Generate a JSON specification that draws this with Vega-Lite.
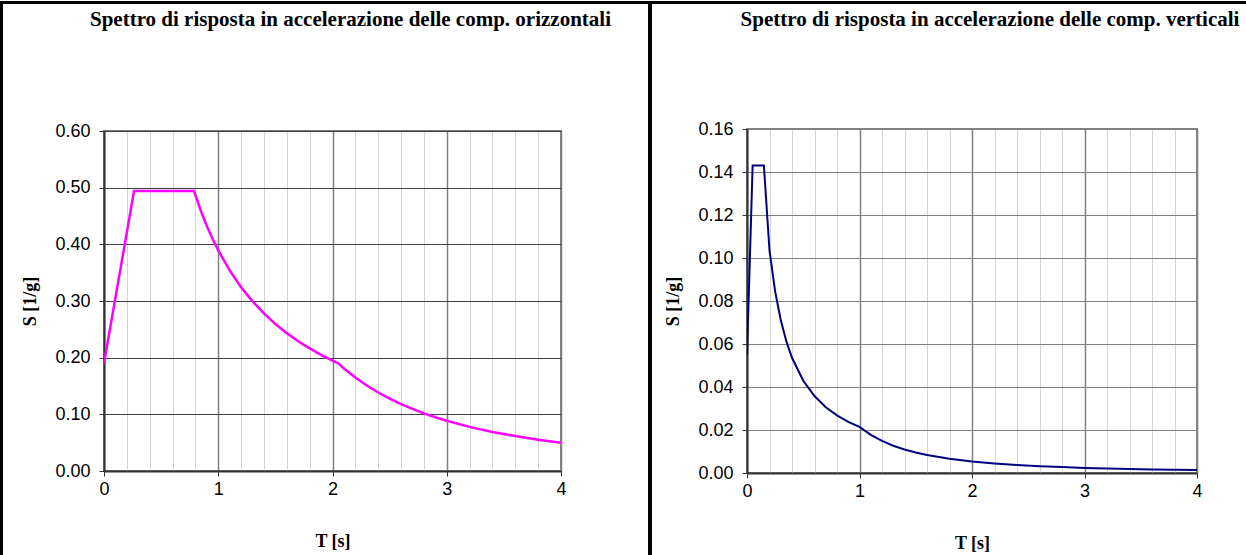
{
  "$schema": "https://vega.github.io/schema/vega-lite/v6.json",
  "background": "white",
  "padding": {"left": 0, "top": 1, "right": 0, "bottom": 0},
  "spacing": 0,
  "datasets": {
    "h": [
      {"T": 0, "S": 0.19},
      {"T": 0.263, "S": 0.494},
      {"T": 0.788, "S": 0.494},
      {"T": 0.85, "S": 0.458},
      {"T": 0.9, "S": 0.4325},
      {"T": 0.95, "S": 0.4098},
      {"T": 1.0, "S": 0.3893},
      {"T": 1.1, "S": 0.3539},
      {"T": 1.2, "S": 0.3244},
      {"T": 1.3, "S": 0.2994},
      {"T": 1.4, "S": 0.2781},
      {"T": 1.5, "S": 0.2595},
      {"T": 1.6, "S": 0.2433},
      {"T": 1.7, "S": 0.229},
      {"T": 1.8, "S": 0.2163},
      {"T": 1.9, "S": 0.2049},
      {"T": 2.0, "S": 0.1946},
      {"T": 2.05, "S": 0.1899},
      {"T": 2.1, "S": 0.181},
      {"T": 2.2, "S": 0.1649},
      {"T": 2.3, "S": 0.1509},
      {"T": 2.4, "S": 0.1385},
      {"T": 2.5, "S": 0.1277},
      {"T": 2.6, "S": 0.118},
      {"T": 2.7, "S": 0.1095},
      {"T": 2.8, "S": 0.1018},
      {"T": 2.9, "S": 0.0949},
      {"T": 3.0, "S": 0.0887},
      {"T": 3.2, "S": 0.0779},
      {"T": 3.4, "S": 0.069},
      {"T": 3.6, "S": 0.0616},
      {"T": 3.8, "S": 0.0553},
      {"T": 4.0, "S": 0.0499}
    ],
    "v": [
      {"T": 0, "S": 0.055},
      {"T": 0.05, "S": 0.143},
      {"T": 0.15, "S": 0.143},
      {"T": 0.2, "S": 0.1035},
      {"T": 0.25, "S": 0.0845},
      {"T": 0.3, "S": 0.0712},
      {"T": 0.35, "S": 0.0612},
      {"T": 0.4, "S": 0.0536},
      {"T": 0.5, "S": 0.0429},
      {"T": 0.6, "S": 0.0358},
      {"T": 0.7, "S": 0.0306},
      {"T": 0.8, "S": 0.0268},
      {"T": 0.9, "S": 0.0238},
      {"T": 1.0, "S": 0.02145},
      {"T": 1.1, "S": 0.01773},
      {"T": 1.2, "S": 0.0149},
      {"T": 1.3, "S": 0.01269},
      {"T": 1.4, "S": 0.01094},
      {"T": 1.5, "S": 0.00953},
      {"T": 1.6, "S": 0.00838},
      {"T": 1.8, "S": 0.00662},
      {"T": 2.0, "S": 0.00536},
      {"T": 2.2, "S": 0.00443},
      {"T": 2.4, "S": 0.00372},
      {"T": 2.6, "S": 0.00317},
      {"T": 2.8, "S": 0.00274},
      {"T": 3.0, "S": 0.00238},
      {"T": 3.3, "S": 0.00197},
      {"T": 3.6, "S": 0.00166},
      {"T": 4.0, "S": 0.00134}
    ],
    "none": []
  },
  "config": {
    "view": {"stroke": "#808080", "strokeWidth": 2},
    "title": {"font": "Liberation Serif", "fontSize": 21, "fontWeight": "bold", "color": "black", "anchor": "middle", "frame": "group", "dx": 18},
    "axis": {
      "labelFont": "Liberation Sans",
      "labelFontSize": 18,
      "labelColor": "black",
      "labelFlush": false,
      "titleFont": "Liberation Serif",
      "titleFontSize": 18,
      "titleFontWeight": "bold",
      "titleColor": "black",
      "domainColor": "#333333",
      "domainWidth": 2,
      "tickColor": "#333333",
      "tickSize": 5,
      "gridOpacity": 1
    }
  },
  "vconcat": [
    {
      "width": 1246,
      "height": 3,
      "view": {"fill": "black", "stroke": null},
      "data": {"name": "none"},
      "mark": "rect",
      "encoding": {}
    },
    {
      "columns": 2,
      "spacing": 17,
      "concat": [
        {
          "width": 3,
          "height": 551,
          "view": {"fill": "black", "stroke": null},
          "data": {"name": "none"},
          "mark": "rect",
          "encoding": {}
        },
        {
          "columns": 2,
          "spacing": 11,
          "concat": [
            {
              "columns": 2,
              "spacing": 35,
              "concat": [
                {
                  "spacing": 0,
                  "vconcat": [
                    {
                      "width": 1,
                      "height": 4,
                      "view": {"fill": null, "stroke": null},
                      "data": {"name": "none"},
                      "mark": "rect",
                      "encoding": {}
                    },
                    {
                      "title": {"text": "Spettro di risposta in accelerazione delle comp. orizzontali", "offset": 92},
                      "width": 457,
                      "height": 340,
                      "data": {"name": "h"},
                      "mark": {"type": "line", "color": "#FF00FF", "strokeWidth": 2.5, "clip": true},
                      "encoding": {
                        "x": {
                          "field": "T", "type": "quantitative",
                          "scale": {"domain": [0, 4], "nice": false, "zero": false},
                          "axis": {
                            "title": "T [s]",
                            "titlePadding": 34,
                            "values": [0, 0.2, 0.4, 0.6, 0.8, 1, 1.2, 1.4, 1.6, 1.8, 2, 2.2, 2.4, 2.6, 2.8, 3, 3.2, 3.4, 3.6, 3.8, 4],
                            "labelExpr": "datum.value % 1 === 0 ? format(datum.value, 'd') : ''",
                            "labelPadding": 4,
                            "gridColor": {"condition": {"test": "datum.value % 1 === 0", "value": "#808080"}, "value": "#d4d4d4"},
                            "gridWidth": {"condition": {"test": "datum.value % 1 === 0", "value": 1.5}, "value": 1},
                            "tickOpacity": {"condition": {"test": "datum.value % 1 === 0", "value": 1}, "value": 0}
                          }
                        },
                        "y": {
                          "field": "S", "type": "quantitative",
                          "scale": {"domain": [0, 0.6], "nice": false},
                          "axis": {
                            "title": "S [1/g]",
                            "titlePadding": 15,
                            "values": [0, 0.1, 0.2, 0.3, 0.4, 0.5, 0.6],
                            "format": ".2f",
                            "labelPadding": 9,
                            "gridColor": "#404040",
                            "gridWidth": 1
                          }
                        }
                      }
                    }
                  ]
                },
                {
                  "width": 4,
                  "height": 551,
                  "view": {"fill": "black", "stroke": null},
                  "data": {"name": "none"},
                  "mark": "rect",
                  "encoding": {}
                }
              ]
            },
            {
              "spacing": 0,
              "vconcat": [
                {
                  "width": 1,
                  "height": 4,
                  "view": {"fill": null, "stroke": null},
                  "data": {"name": "none"},
                  "mark": "rect",
                  "encoding": {}
                },
                {
                  "title": {"text": "Spettro di risposta in accelerazione delle comp. verticali", "offset": 90},
                  "width": 450,
                  "height": 344,
                  "data": {"name": "v"},
                  "mark": {"type": "line", "color": "#000080", "strokeWidth": 2, "clip": true},
                  "encoding": {
                    "x": {
                      "field": "T", "type": "quantitative",
                      "scale": {"domain": [0, 4], "nice": false, "zero": false},
                      "axis": {
                        "title": "T [s]",
                        "titlePadding": 34,
                        "values": [0, 0.2, 0.4, 0.6, 0.8, 1, 1.2, 1.4, 1.6, 1.8, 2, 2.2, 2.4, 2.6, 2.8, 3, 3.2, 3.4, 3.6, 3.8, 4],
                        "labelExpr": "datum.value % 1 === 0 ? format(datum.value, 'd') : ''",
                        "labelPadding": 4,
                        "gridColor": {"condition": {"test": "datum.value % 1 === 0", "value": "#808080"}, "value": "#d4d4d4"},
                        "gridWidth": {"condition": {"test": "datum.value % 1 === 0", "value": 1.5}, "value": 1},
                        "tickOpacity": {"condition": {"test": "datum.value % 1 === 0", "value": 1}, "value": 0}
                      }
                    },
                    "y": {
                      "field": "S", "type": "quantitative",
                      "scale": {"domain": [0, 0.16], "nice": false},
                      "axis": {
                        "title": "S [1/g]",
                        "titlePadding": 15,
                        "values": [0, 0.02, 0.04, 0.06, 0.08, 0.1, 0.12, 0.14, 0.16],
                        "format": ".2f",
                        "labelPadding": 9,
                        "gridColor": "#808080",
                        "gridWidth": 1
                      }
                    }
                  }
                }
              ]
            }
          ]
        }
      ]
    }
  ]
}
